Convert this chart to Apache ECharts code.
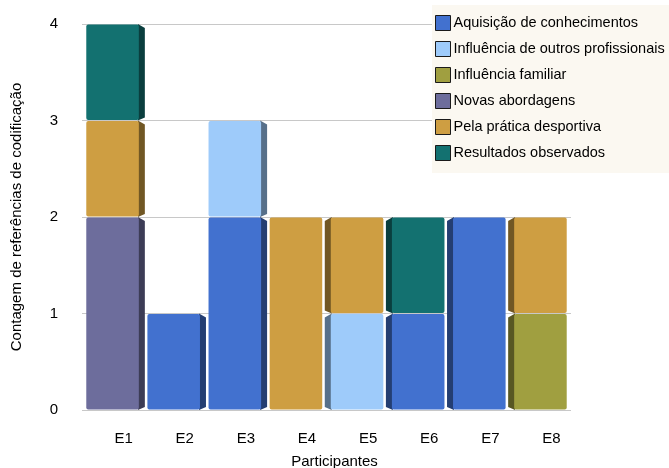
<!DOCTYPE html>
<html>
<head>
<meta charset="utf-8">
<script src="https://cdn.jsdelivr.net/npm/echarts@6/dist/echarts.min.js"></script>
<style>
  html, body { margin: 0; padding: 0; background: #fff; }
  #chart { width: 669px; height: 468px; }
</style>
</head>
<body>
<div id="chart"></div>
<script>
// Participants on the category axis
const categories = ['E1', 'E2', 'E3', 'E4', 'E5', 'E6', 'E7', 'E8'];

// Coding-reference counts per category (one array per theme, stacked bottom to top)
const aquisicao          = [0, 1, 2, 0, 0, 1, 2, 0];
const influenciaOutros   = [0, 0, 1, 0, 1, 0, 0, 0];
const influenciaFamiliar = [0, 0, 0, 0, 0, 0, 0, 1];
const novasAbordagens    = [2, 0, 0, 0, 0, 0, 0, 0];
const pelaPratica        = [1, 0, 0, 2, 1, 0, 0, 1];
const resultados         = [1, 0, 0, 0, 0, 1, 0, 0];

const seriesNames = [
  'Aquisição de conhecimentos',
  'Influência de outros profissionais',
  'Influência familiar',
  'Novas abordagens',
  'Pela prática desportiva',
  'Resultados observados'
];
const seriesValues = [aquisicao, influenciaOutros, influenciaFamiliar, novasAbordagens, pelaPratica, resultados];
const seriesColors = ['#4271CF', '#9ECBFA', '#A09F40', '#6D6D9C', '#CE9E42', '#137170'];

const yTicks = [0, 1, 2, 3, 4];

// Build stacked [category, value, base] items
const bases = categories.map(() => 0);
const stackedData = seriesValues.map(vals => {
  const items = [];
  vals.forEach((v, i) => {
    if (v > 0) items.push([i, v, bases[i]]);
    bases[i] += v;
  });
  return items;
});

// Scale an #rrggbb colour towards black
function shade(hex, f) {
  const n = parseInt(hex.slice(1), 16);
  const r = Math.round(((n >> 16) & 255) * f);
  const g = Math.round(((n >> 8) & 255) * f);
  const b = Math.round((n & 255) * f);
  return 'rgb(' + r + ',' + g + ',' + b + ')';
}

const centerIndex = 3; // bars left of this show their right face, right of it the left face

function renderBlock(color) {
  const sideColor = shade(color, 0.55);
  return function (params, api) {
    const i = api.value(0), v = api.value(1), b = api.value(2);
    const pBot = api.coord([i, b]);
    const pTop = api.coord([i, b + v]);
    const w = api.size([1, 0])[0] * 0.86;
    const x0 = pBot[0] - w / 2, x1 = x0 + w;
    const yT = pTop[1], yB = pBot[1];
    const children = [];
    const d = 6;
    if (i < centerIndex) {
      children.push({
        type: 'polygon',
        shape: { points: [[x1 - 1, yT], [x1 + d, yT + 4], [x1 + d, yB - 3], [x1 - 1, yB]] },
        style: { fill: sideColor }
      });
    } else if (i > centerIndex) {
      children.push({
        type: 'polygon',
        shape: { points: [[x0 + 1, yT], [x0 - d, yT + 4], [x0 - d, yB - 3], [x0 + 1, yB]] },
        style: { fill: sideColor }
      });
    }
    children.push({
      type: 'rect',
      shape: { x: x0, y: yT + 0.5, width: w, height: yB - yT - 1, r: 2 },
      style: { fill: color }
    });
    return { type: 'group', children: children };
  };
}

const chart = echarts.init(document.getElementById('chart'), null, { renderer: 'canvas' });

chart.setOption({
  animation: false,
  textStyle: { fontFamily: 'Liberation Sans, Arial, sans-serif' },
  grid: { left: 82, right: 98, top: 24, bottom: 58, containLabel: false, outerBoundsMode: 'none' },
  legend: {
    orient: 'vertical',
    left: 432,
    top: 5,
    padding: [10, 12, 12, 3],
    backgroundColor: '#FBF8F1',
    itemWidth: 15,
    itemHeight: 15,
    itemGap: 10,
    icon: 'rect',
    itemStyle: { borderColor: '#1a1a1a', borderWidth: 1 },
    textStyle: { fontSize: 14.5, color: '#000', padding: [0, 0, 0, -2] },
    data: seriesNames
  },
  xAxis: {
    type: 'category',
    data: categories,
    name: 'Participantes',
    nameLocation: 'middle',
    nameGap: 44,
    nameTextStyle: { fontSize: 15, color: '#000', padding: [0, 0, 0, 16] },
    axisLine: { show: false },
    axisTick: { show: false },
    axisLabel: { fontSize: 15, color: '#000', margin: 21, padding: [0, 0, 0, 22] }
  },
  yAxis: {
    type: 'value',
    min: yTicks[0],
    max: yTicks[yTicks.length - 1],
    interval: 1,
    name: 'Contagem de referências de codificação',
    nameLocation: 'middle',
    nameGap: 58,
    nameTextStyle: { fontSize: 15, color: '#000' },
    axisLine: { show: false },
    axisTick: { show: false },
    axisLabel: { fontSize: 15, color: '#000', margin: 24 },
    splitLine: { lineStyle: { color: '#c8c8c8', width: 1 } }
  },
  series: seriesNames.map((name, k) => ({
    type: 'custom',
    name: name,
    itemStyle: { color: seriesColors[k] },
    encode: { x: 0, y: [1, 2] },
    renderItem: renderBlock(seriesColors[k]),
    data: stackedData[k]
  }))
});
</script>
</body>
</html>
